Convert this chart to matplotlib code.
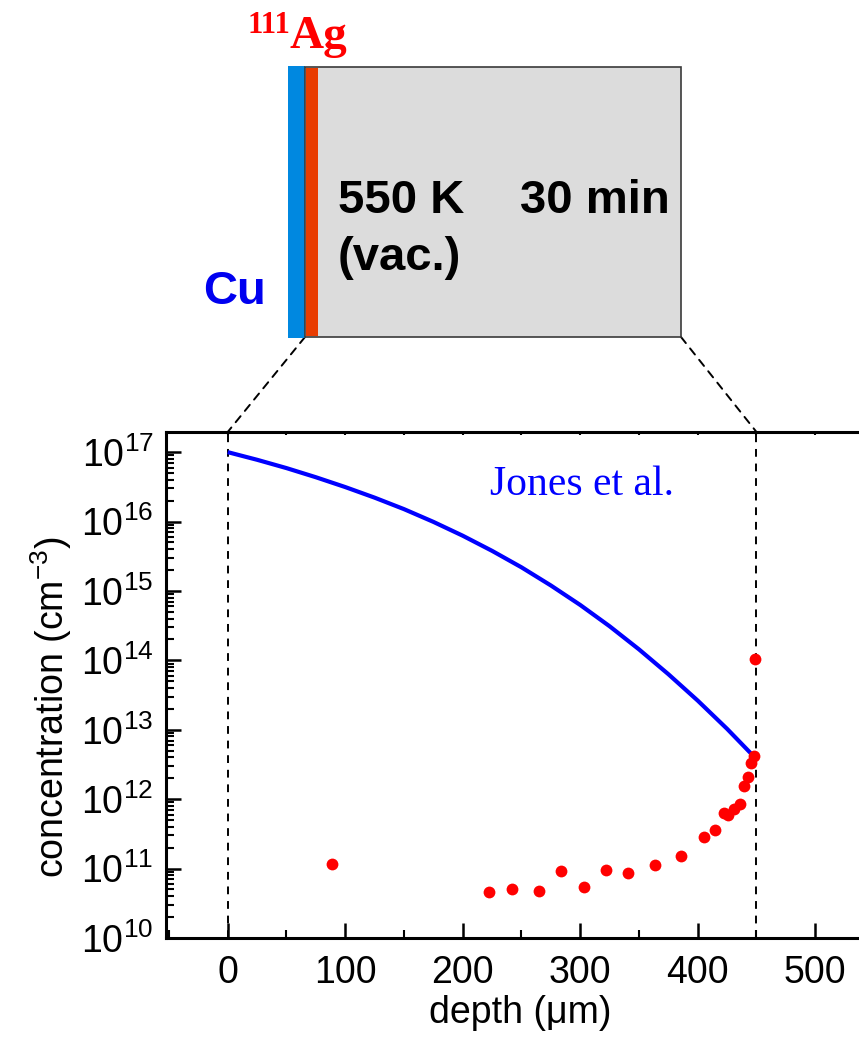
import matplotlib
matplotlib.use("Agg")
import matplotlib.pyplot as plt
from matplotlib.patches import Rectangle, ConnectionPatch
from matplotlib.ticker import MultipleLocator, LogLocator, NullFormatter

plt.rcParams['font.family'] = ['Liberation Sans', 'DejaVu Sans']
plt.rcParams['mathtext.fontset'] = 'custom'
plt.rcParams['mathtext.rm'] = 'Liberation Sans'
plt.rcParams['mathtext.it'] = 'Liberation Sans:italic'
plt.rcParams['mathtext.bf'] = 'Liberation Sans:bold'

# Jones et al. calculated profile
depth_jones = [0, 25, 50, 75, 100, 125, 150, 175, 200, 225, 250, 275, 300,
               325, 350, 375, 400, 425, 450]
conc_jones = [1.0e17, 7.76e16, 5.89e16, 4.35e16, 3.14e16, 2.21e16, 1.51e16,
              9.90e15, 6.25e15, 3.78e15, 2.19e15, 1.20e15, 6.28e14, 3.10e14,
              1.44e14, 6.32e13, 2.63e13, 1.03e13, 3.77e12]

# measured 111Ag profile
depth_meas = [89, 222, 242, 265, 284, 303, 322, 341, 364, 386, 405, 415,
              422, 426, 431, 436, 439.5, 443, 445, 447.7, 449]
conc_meas = [1.17e11, 4.67e10, 5.05e10, 4.78e10, 9.36e10, 5.5e10, 9.4e10,
             8.7e10, 1.12e11, 1.51e11, 2.83e11, 3.57e11, 6.4e11, 6.0e11,
             7.2e11, 8.6e11, 1.57e12, 2.12e12, 3.3e12, 4.25e12, 1.04e14]

sample_thickness = 450
x_ticks = [0, 100, 200, 300, 400, 500]

W, H = 859, 1043
fig = plt.figure(figsize=(W / 100, H / 100), dpi=100)

# ---- profile plot ----
ax = fig.add_axes([166 / W, 1 - 938 / H, 708 / W, 506 / H])
ax.set_yscale('log')
ax.set_xlim(-52.5, 550)
ax.set_ylim(1e10, 10 ** 17.29)

ax.axvline(0, color='k', lw=1.4, ls=(0, (4, 3.5)), zorder=1)
ax.axvline(sample_thickness, color='k', lw=1.4, ls=(0, (4, 3.5)), zorder=1)
ax.plot(depth_jones, conc_jones, color='#0000ff', lw=3, zorder=2,
        solid_capstyle='butt', solid_joinstyle='round')
ax.plot(depth_meas, conc_meas, 'o', color='#ff0000', ms=8.5, mec='none',
        zorder=3)

for s in ['left', 'bottom', 'top']:
    ax.spines[s].set_linewidth(2.2)
ax.spines['right'].set_visible(False)

ax.set_xticks(x_ticks)
ax.xaxis.set_minor_locator(MultipleLocator(50))
ax.yaxis.set_major_locator(LogLocator(base=10, numticks=20))
ax.yaxis.set_minor_locator(LogLocator(base=10, subs=range(2, 10), numticks=20))
ax.yaxis.set_minor_formatter(NullFormatter())
ax.tick_params(axis='both', which='major', direction='in', length=11,
               width=1.8, labelsize=27)
ax.tick_params(axis='both', which='minor', direction='in', length=6,
               width=1.5)
ax.tick_params(axis='x', which='both', top=False, pad=12)
ax.tick_params(axis='y', which='both', right=False, pad=9)

ax_top = ax.twiny()
ax_top.set_xlim(ax.get_xlim())
ax_top.set_xticks(range(0, 551, 50))
ax_top.tick_params(axis='x', direction='in', length=2.5, width=1.5,
                   labeltop=False)
for s in ax_top.spines.values():
    s.set_visible(False)

ax.set_xlabel('depth (\u03bcm)', fontsize=27)
ax.xaxis.set_label_coords(0.5, -0.113)
ax.set_ylabel('concentration (cm$^{-3}$)', fontsize=27)
ax.yaxis.set_label_coords(-0.13, 0.457)

# ---- sample sketch ----
ov = fig.add_axes([0, 0, 1, 1], zorder=5)
ov.set_xlim(0, W)
ov.set_ylim(H, 0)
ov.axis('off')
ov.patch.set_alpha(0)

ov.add_patch(Rectangle((288, 66), 17, 272, facecolor='#0088e0',
                       edgecolor='none'))
ov.add_patch(Rectangle((305, 67), 376, 270, facecolor='#dcdcdc',
                       edgecolor='#3a3a3a', lw=1.2))
ov.add_patch(Rectangle((305.6, 67.6), 12.5, 268.8, facecolor='#e83c00',
                       edgecolor='none'))

ov.text(338, 213, '550 K', fontsize=34, fontweight='bold', va='baseline')
ov.text(520, 213, '30 min', fontsize=34, fontweight='bold', va='baseline')
ov.text(338, 270, '(vac.)', fontsize=34, fontweight='bold', va='baseline')
ov.text(203, 304, 'Cu', fontsize=34, fontweight='bold', color='#0000f0',
        va='baseline')
ov.text(248, 33, '111', fontsize=22, fontweight='bold', color='#ff0000',
        family='Liberation Serif', va='baseline')
ov.text(290, 48, 'Ag', fontsize=34, fontweight='bold', color='#ff0000',
        family='Liberation Serif', va='baseline')
ov.text(490, 495, 'Jones et al.', fontsize=30, color='#0000ff',
        family='Liberation Serif', va='baseline')

for xa, xb in [(305, 0), (681, sample_thickness)]:
    con = ConnectionPatch(xyA=(xa, 337), coordsA=ov.transData,
                          xyB=(xb, 1), coordsB=ax.get_xaxis_transform(),
                          color='k', lw=1.4, ls=(0, (4, 3.5)))
    fig.add_artist(con)

fig.savefig('out.png', dpi=100)
